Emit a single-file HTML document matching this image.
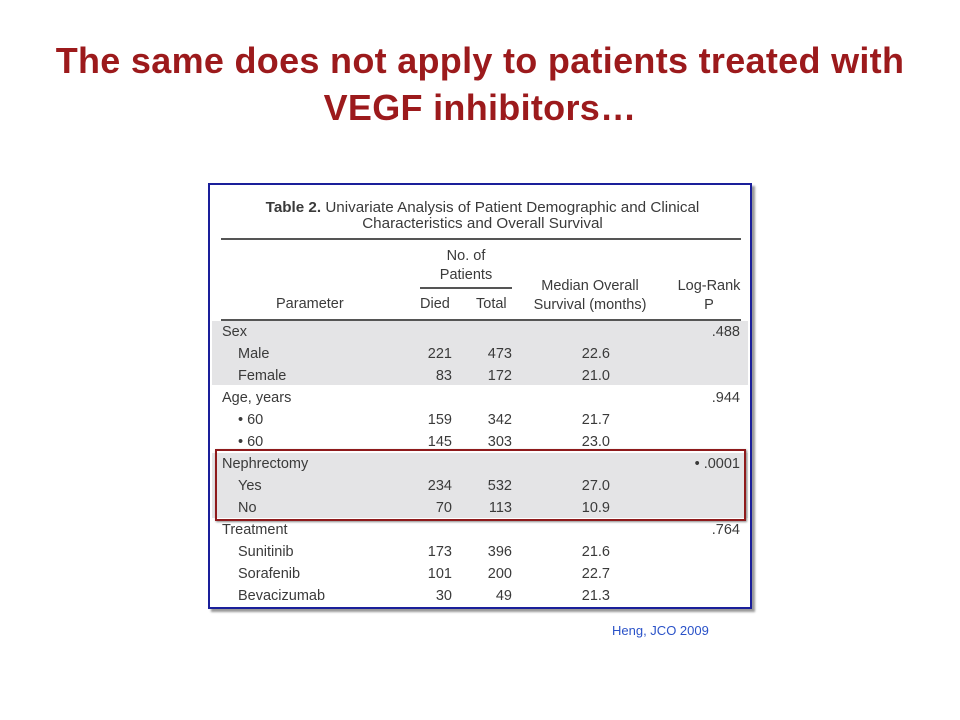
<!DOCTYPE html>
<html><head><meta charset="utf-8"><style>
body{margin:0;width:960px;height:720px;background:#fff;position:relative;overflow:hidden;font-family:"Liberation Sans",sans-serif}
.t{position:absolute;white-space:nowrap}
#title{position:absolute;left:0;top:37px;width:960px;text-align:center;color:#9c1a1c;font-weight:bold;font-size:36px;line-height:47px;letter-spacing:0.3px}
#box{position:absolute;left:208px;top:183px;width:540px;height:422px;border:2px solid #1a1f9a;box-shadow:3px 3px 2px #999;background:#fff}
.c{position:absolute;font-size:14.5px;color:#3a3a3a;white-space:nowrap;line-height:16px}
.band{position:absolute;left:2px;width:536px;background:#e4e4e6}
.rule{position:absolute;background:#555;height:2px}
</style></head><body>
<div id="title">The same does not apply to patients treated with<br>VEGF inhibitors…</div>
<div id="box">
<div class="band" style="top:136px;height:64px"></div>
<div class="band" style="top:268px;height:65px"></div>
<div class="c" style="left:40px;top:15px;width:465px;text-align:center;font-size:15.2px;line-height:16px"><b>Table 2.</b> Univariate Analysis of Patient Demographic and Clinical<br>Characteristics and Overall Survival</div>
<div class="rule" style="left:11px;top:53px;width:520px"></div>
<div class="rule" style="left:210px;top:102px;width:92px;height:1.5px"></div>
<div class="rule" style="left:11px;top:134px;width:520px"></div>
<div class="c" style="left:210px;top:62px;width:92px;text-align:center;line-height:19px">No. of<br>Patients</div>
<div class="c" style="left:66px;top:111px">Parameter</div>
<div class="c" style="left:210px;top:111px">Died</div>
<div class="c" style="left:266px;top:111px">Total</div>
<div class="c" style="left:318px;top:92px;width:124px;text-align:center;line-height:19px">Median Overall<br>Survival (months)</div>
<div class="c" style="left:462px;top:92px;width:74px;text-align:center;line-height:19px">Log-Rank<br>P</div>
<div id="rows"></div>
</div>
<div class="t" style="left:215px;top:449px;width:527px;height:68px;border:2px solid #8e1a1c;box-shadow:1px 1px 2px #888"></div>
<div class="t" style="left:612px;top:623px;font-size:13px;color:#2a52c8">Heng, JCO 2009</div>
<script>
const labels=["Sex","Male","Female","Age, years","•  60","•  60","Nephrectomy","Yes","No","Treatment","Sunitinib","Sorafenib","Bevacizumab"];
const indent=[0,1,1,0,1,1,0,1,1,0,1,1,1];
const died=["","221","83","","159","145","","234","70","","173","101","30"];
const total=["","473","172","","342","303","","532","113","","396","200","49"];
const median=["","22.6","21.0","","21.7","23.0","","27.0","10.9","","21.6","22.7","21.3"];
const pval=[".488","","",".944","","","•  .0001","","",".764","","",""];
const rows=document.getElementById('rows');
function add(txt,left,top,right,name){
 const d=document.createElement('div');d.className='c';d.textContent=txt;
 d.style.top=top+'px';
 if(right){d.style.right=right+'px';}else{d.style.left=left+'px';}
 
 
 rows.appendChild(d);
}
labels.forEach((l,i)=>{
 const y=139+i*22;
 add(l,indent[i]?28:12,y,0,'row-label');
 if(died[i])add(died[i],0,y,298,'died-cell');
 if(total[i])add(total[i],0,y,238,'total-cell');
 if(median[i])add(median[i],0,y,140,'median-cell');
 if(pval[i])add(pval[i],0,y,10,'p-cell');
});
</script>
</body></html>
